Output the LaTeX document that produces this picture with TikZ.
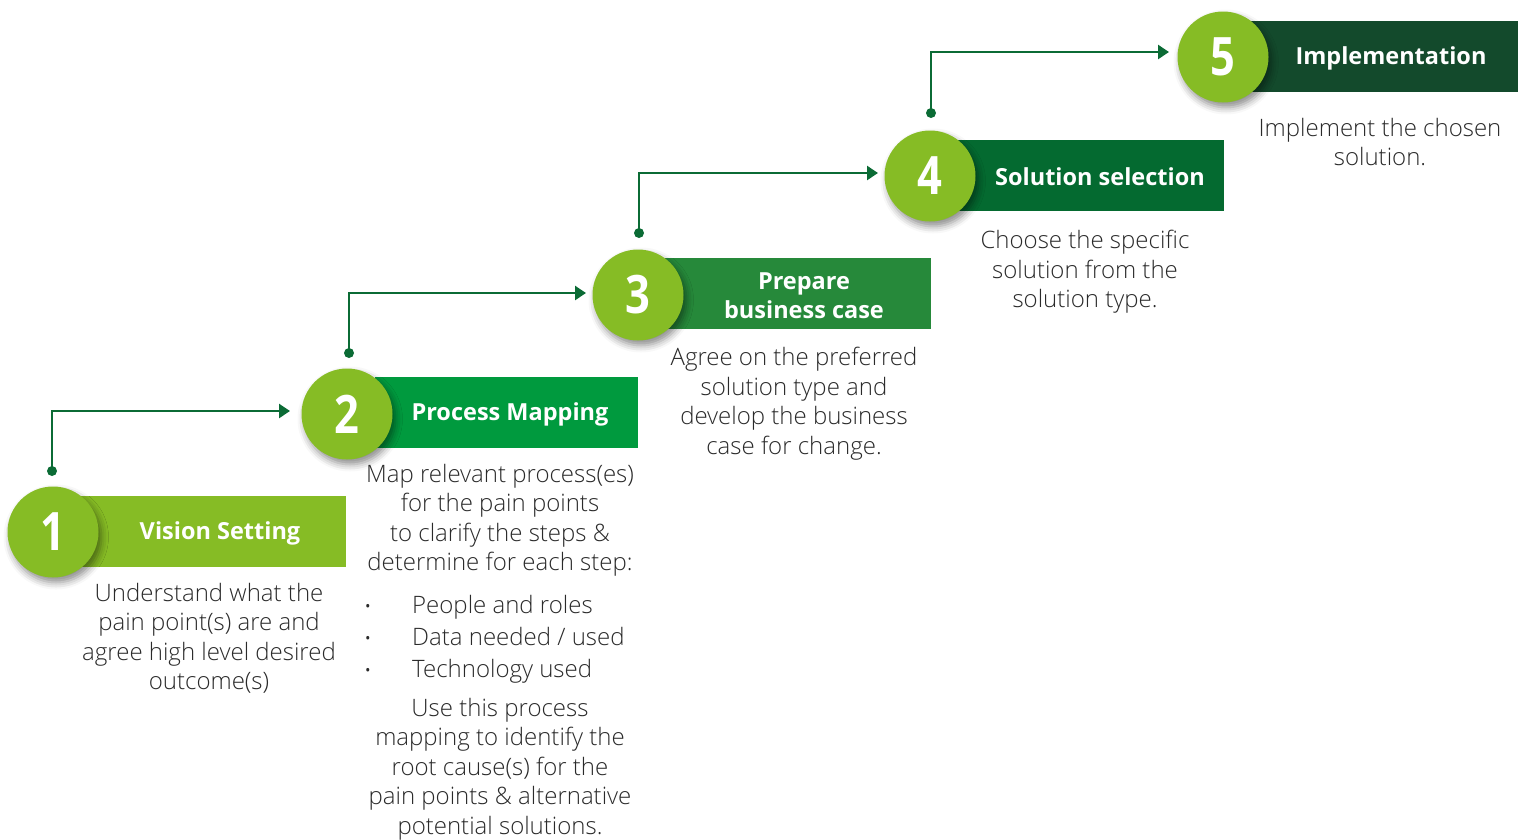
\documentclass[tikz,border=0pt]{standalone}
\usepackage{fontspec}
\usepackage{graphicx}
\setmainfont{Open Sans}
\newfontfamily\lightfont{Open Sans Light}
\usetikzlibrary{arrows.meta,shadows.blur}
\definecolor{lime}{HTML}{86BC25}
\definecolor{bann1}{HTML}{86BC25}
\definecolor{bann2}{HTML}{009A3E}
\definecolor{bann3}{HTML}{26893A}
\definecolor{bann4}{HTML}{046A30}
\definecolor{bann5}{HTML}{134A2C}
\definecolor{conncol}{HTML}{0B6B35}
\definecolor{txt}{HTML}{2A2A2A}
\newcommand{\stepnum}[1]{\scalebox{0.82}[1]{#1}}
\tikzset{
  stepcircle/.style={circle, fill=lime, minimum size=91pt, inner sep=0pt, text=white,
    font=\fontsize{53}{53}\selectfont\bfseries,
    blur shadow={shadow xshift=3pt, shadow yshift=-5pt, shadow blur radius=7pt, shadow opacity=45}},
  banner/.style={rectangle, minimum height=71pt, inner sep=0pt},
  title/.style={text=white, font=\fontsize{23.5}{29}\selectfont\bfseries, align=center, inner sep=0pt},
  desc/.style={text=txt, font=\lightfont\fontsize{24}{29.5}\selectfont, align=center, inner sep=0pt},
  bul/.style={text=txt, font=\lightfont\fontsize{24}{29.5}\selectfont, anchor=base west, inner sep=0pt},
  dotnode/.style={circle, fill=conncol, minimum size=10pt, inner sep=0pt},
  conn/.style={draw=conncol, line width=2.5pt, -{Triangle[length=11pt,width=14pt]}}
}
\begin{document}
\begin{tikzpicture}[x=1pt,y=-1pt]
\useasboundingbox (0,0) rectangle (1526,839);
% banners
\node[banner, fill=bann1, minimum width=266pt] (b1) at (213,531.5) {};
\node[banner, fill=bann2, minimum width=263pt] (b2) at (506.5,412.5) {};
\node[banner, fill=bann3, minimum width=266pt] (b3) at (798,293.5) {};
\node[banner, fill=bann4, minimum width=266pt] (b4) at (1091,175.5) {};
\node[banner, fill=bann5, minimum width=268pt] (b5) at (1384,56.5) {};
% circles
\node[stepcircle] (c1) at (53,532) {\stepnum{1}};
\node[stepcircle] (c2) at (347,414) {\stepnum{2}};
\node[stepcircle] (c3) at (638,295) {\stepnum{3}};
\node[stepcircle] (c4) at (930,176) {\stepnum{4}};
\node[stepcircle] (c5) at (1223,57) {\stepnum{5}};
% titles
\node[title] (t1) at (220,533) {Vision Setting};
\node[title] (t2) at (510,414) {Process Mapping};
\node[title] (t3) at (804,296) {Prepare\\business case};
\node[title] (t4) at (1100,177) {Solution selection};
\node[title] (t5) at (1391,58) {Implementation};
% connectors
\node[dotnode] (d1) at (52,471) {};
\node[dotnode] (d2) at (349,353) {};
\node[dotnode] (d3) at (639,233) {};
\node[dotnode] (d4) at (931,113) {};
\coordinate (e1) at (290,411);
\coordinate (e2) at (586,293);
\coordinate (e3) at (878,173);
\coordinate (e4) at (1169,52);
\draw[conn] (d1.center) |- (e1);
\draw[conn] (d2.center) |- (e2);
\draw[conn] (d3.center) |- (e3);
\draw[conn] (d4.center) |- (e4);
% descriptions
\node[desc] (s1) at (209,638.5) {Understand what the\\pain point(s) are and\\agree high level desired\\outcome(s)};
\node[desc] (s2) at (500,520.5) {Map relevant process(es)\\for the pain points\\to clarify the steps \&\\determine for each step:};
\node[bul] (l1) at (412,613) {People and roles};
\node[bul] (l2) at (412,645) {Data needed / used};
\node[bul] (l3) at (412,677) {Technology used};
\node[bul] (p1) at (364,613) {\fontsize{20}{20}\selectfont•};
\node[bul] (p2) at (364,645) {\fontsize{20}{20}\selectfont•};
\node[bul] (p3) at (364,677) {\fontsize{20}{20}\selectfont•};
\node[desc] (s2b) at (500,769) {Use this process\\mapping to identify the\\root cause(s) for the\\pain points \& alternative\\potential solutions.};
\node[desc] (s3) at (794,403.5) {Agree on the preferred\\solution type and\\develop the business\\case for change.};
\node[desc] (s4) at (1085,272) {Choose the specific\\solution from the\\solution type.};
\node[desc] (s5) at (1380,142) {Implement the chosen\\solution.};
\end{tikzpicture}
\end{document}
